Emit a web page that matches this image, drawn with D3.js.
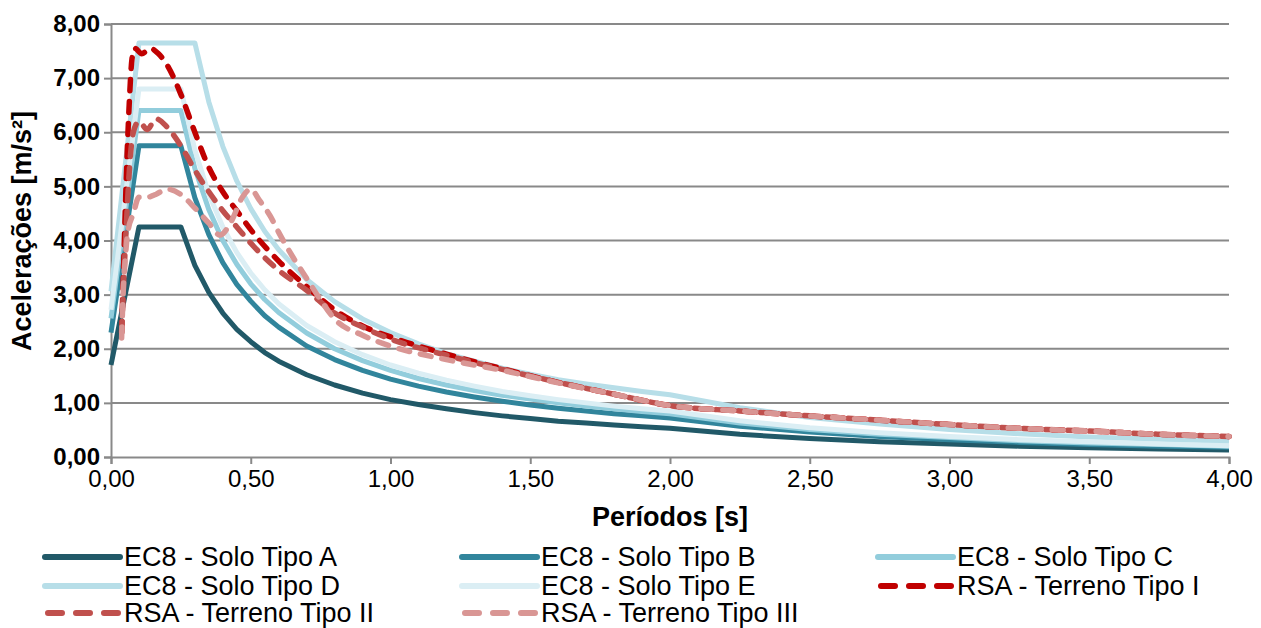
<!DOCTYPE html>
<html>
<head>
<meta charset="utf-8">
<script src="https://cdn.jsdelivr.net/npm/d3@7"></script>
<style>
  body { margin: 0; background: #fff; }
  text { font-family: "Liberation Sans", Arial, sans-serif; }
</style>
</head>
<body>
<div id="chart"></div>
<script>
// periods (s) shared by the EC8 spectra
var ec8Periods = [0, 0.1, 0.25, 0.3, 0.35, 0.4, 0.45, 0.5, 0.55, 0.6, 0.7, 0.8, 0.9, 1.0, 1.1, 1.2, 1.3, 1.4, 1.5,
                  1.6, 1.7, 1.8, 1.9, 2.0, 2.25, 2.5, 2.75, 3.0, 3.25, 3.5, 3.75, 4.0];

var soloA = [1.70, 4.25, 4.25, 3.54, 3.04, 2.66, 2.36, 2.13, 1.93, 1.77, 1.52, 1.33, 1.18, 1.06, 0.97, 0.89, 0.82, 0.76, 0.71,
             0.66, 0.63, 0.59, 0.56, 0.53, 0.42, 0.34, 0.28, 0.24, 0.20, 0.17, 0.15, 0.13];
var soloB = [2.30, 5.75, 5.75, 4.79, 4.11, 3.59, 3.19, 2.88, 2.61, 2.40, 2.05, 1.80, 1.60, 1.44, 1.31, 1.20, 1.11, 1.03, 0.96,
             0.90, 0.85, 0.80, 0.76, 0.72, 0.57, 0.46, 0.38, 0.32, 0.27, 0.23, 0.20, 0.18];
var soloC = [2.56, 6.40, 6.40, 5.33, 4.57, 4.00, 3.56, 3.20, 2.91, 2.67, 2.29, 2.00, 1.78, 1.60, 1.45, 1.33, 1.23, 1.14, 1.07,
             1.00, 0.94, 0.89, 0.84, 0.80, 0.63, 0.51, 0.42, 0.36, 0.30, 0.26, 0.23, 0.20];
var soloD = [3.06, 7.65, 7.65, 7.65, 6.56, 5.74, 5.10, 4.59, 4.17, 3.83, 3.28, 2.87, 2.55, 2.30, 2.09, 1.91, 1.77, 1.64, 1.53,
             1.43, 1.35, 1.28, 1.21, 1.15, 0.91, 0.73, 0.61, 0.51, 0.43, 0.37, 0.33, 0.29];
var soloE = [2.72, 6.80, 6.80, 5.67, 4.86, 4.25, 3.78, 3.40, 3.09, 2.83, 2.43, 2.13, 1.89, 1.70, 1.55, 1.42, 1.31, 1.21, 1.13,
             1.06, 1.00, 0.94, 0.89, 0.85, 0.67, 0.54, 0.45, 0.38, 0.32, 0.28, 0.24, 0.21];

// RSA spectra
var rsaPeriodsI = [0.038, 0.045, 0.055, 0.065, 0.075, 0.085, 0.11, 0.14, 0.17, 0.2, 0.25, 0.3, 0.35, 0.4, 0.45, 0.5,
                   0.6, 0.7, 0.8, 0.9, 1.0, 1.2, 1.4, 1.6, 1.8, 2.0, 2.25, 2.5, 2.75, 3.0, 3.25, 3.5, 3.75, 4.0];
var terrenoI = [2.3, 3.5, 5.2, 6.5, 7.35, 7.55, 7.45, 7.55, 7.45, 7.25, 6.7, 6.0, 5.35, 4.9, 4.55, 4.2,
                3.62, 3.15, 2.72, 2.42, 2.22, 1.9, 1.63, 1.38, 1.16, 0.95, 0.85, 0.76, 0.68, 0.6, 0.53, 0.48, 0.42, 0.38];

var rsaPeriodsII = [0.038, 0.045, 0.055, 0.07, 0.08, 0.1, 0.13, 0.16, 0.2, 0.25, 0.3, 0.35, 0.4, 0.45, 0.5,
                    0.6, 0.7, 0.8, 0.9, 1.0, 1.2, 1.4, 1.6, 1.8, 2.0, 2.25, 2.5, 2.75, 3.0, 3.25, 3.5, 3.75, 4.0];
var terrenoII = [2.3, 3.2, 4.3, 5.6, 6.0, 6.2, 6.05, 6.25, 6.1, 5.75, 5.3, 4.9, 4.55, 4.25, 3.95,
                 3.45, 3.08, 2.66, 2.4, 2.18, 1.88, 1.62, 1.38, 1.16, 0.95, 0.85, 0.76, 0.68, 0.6, 0.53, 0.48, 0.42, 0.38];

var rsaPeriodsIII = [0.038, 0.045, 0.05, 0.06, 0.08, 0.1, 0.13, 0.16, 0.2, 0.25, 0.3, 0.35, 0.39, 0.43, 0.47, 0.5,
                     0.53, 0.57, 0.6, 0.65, 0.7, 0.75, 0.8, 0.9, 1.0, 1.2, 1.4, 1.6, 1.8, 2.0, 2.25, 2.5, 2.75,
                     3.0, 3.25, 3.5, 3.75, 4.0];
var terrenoIII = [2.2, 3.2, 3.6, 4.15, 4.5, 4.8, 4.8, 4.85, 4.95, 4.85, 4.6, 4.32, 4.1, 4.35, 4.8, 4.95,
                  4.75, 4.45, 4.15, 3.7, 3.3, 2.9, 2.55, 2.25, 2.05, 1.8, 1.6, 1.37, 1.16, 0.95, 0.85, 0.76, 0.68,
                  0.6, 0.53, 0.48, 0.42, 0.38];

var xTicks = [0, 0.5, 1, 1.5, 2, 2.5, 3, 3.5, 4];
var yTicks = [0, 1, 2, 3, 4, 5, 6, 7, 8];

var series = [
    { name: "EC8 - Solo Tipo A", t: ec8Periods, v: soloA, color: "#215968", dash: false },
    { name: "EC8 - Solo Tipo B", t: ec8Periods, v: soloB, color: "#31859c", dash: false },
    { name: "EC8 - Solo Tipo C", t: ec8Periods, v: soloC, color: "#92cddc", dash: false },
    { name: "EC8 - Solo Tipo D", t: ec8Periods, v: soloD, color: "#b7dee8", dash: false },
    { name: "EC8 - Solo Tipo E", t: ec8Periods, v: soloE, color: "#dbeef4", dash: false },
    { name: "RSA - Terreno Tipo I", t: rsaPeriodsI, v: terrenoI, color: "#c00000", dash: true },
    { name: "RSA - Terreno Tipo II", t: rsaPeriodsII, v: terrenoII, color: "#c0504d", dash: true },
    { name: "RSA - Terreno Tipo III", t: rsaPeriodsIII, v: terrenoIII, color: "#d99694", dash: true }
];

var width = 1261,
    height = 628;

var svg = d3.select("#chart").append("svg")
    .attr("width", width)
    .attr("height", height);

var x = d3.scaleLinear().domain([0, 4]).range([111, 1229]);
var y = d3.scaleLinear().domain([0, 8]).range([457, 24]);

var pt = d3.formatLocale({ decimal: ",", thousands: ".", grouping: [3], currency: ["", ""] }).format(".2f");

// gridlines
svg.append("g")
    .selectAll("line")
    .data(yTicks.slice(1))
    .enter().append("line")
    .attr("x1", x(0)).attr("x2", x(4))
    .attr("y1", function(d) { return y(d); })
    .attr("y2", function(d) { return y(d); })
    .attr("stroke", "#898989")
    .attr("stroke-width", 2);

// axes
var yAxis = svg.append("g")
    .attr("transform", "translate(" + x(0) + ",0)")
    .call(d3.axisLeft(y).tickValues(yTicks).tickSize(7).tickPadding(4).tickFormat(pt));

var xAxis = svg.append("g")
    .attr("transform", "translate(0," + y(0) + ")")
    .call(d3.axisBottom(x).tickValues(xTicks).tickSize(7).tickPadding(6).tickFormat(pt));

[yAxis, xAxis].forEach(function(ax) {
    ax.select(".domain").attr("stroke", "#898989").attr("stroke-width", 2);
    ax.selectAll(".tick line").attr("stroke", "#898989").attr("stroke-width", 2);
    ax.selectAll(".tick text").attr("fill", "#000").style("font-size", "24px");
});
yAxis.selectAll(".tick text").style("font-weight", "bold");

// series
var line = d3.line()
    .x(function(d) { return x(d[0]); })
    .y(function(d) { return y(d[1]); });

svg.append("g")
    .selectAll("path")
    .data(series)
    .enter().append("path")
    .attr("fill", "none")
    .attr("stroke", function(d) { return d.color; })
    .attr("stroke-width", function(d) { return d.dash ? 5.5 : 5; })
    .attr("stroke-linecap", function(d) { return d.dash ? "round" : "butt"; })
    .attr("stroke-linejoin", "round")
    .attr("stroke-dasharray", function(d) { return d.dash ? "11,11" : null; })
    .attr("d", function(d) {
        var pts = d.t.map(function(t, i) { return [t, d.v[i]]; });
        return line.curve(d.dash ? d3.curveMonotoneX : d3.curveLinear)(pts);
    });

// axis titles
svg.append("text")
    .attr("x", 670).attr("y", 526)
    .attr("text-anchor", "middle")
    .style("font-size", "27px").style("font-weight", "bold")
    .text("Períodos [s]");

svg.append("text")
    .attr("transform", "translate(31,231) rotate(-90)")
    .attr("text-anchor", "middle")
    .style("font-size", "27px").style("font-weight", "bold")
    .text("Acelerações [m/s²]");

// legend
var colX = [45, 462, 878],
    rowY = [557, 586, 613];

var legend = svg.append("g")
    .selectAll("g")
    .data(series)
    .enter().append("g")
    .attr("transform", function(d, i) {
        return "translate(" + colX[i % 3] + "," + rowY[Math.floor(i / 3)] + ")";
    });

legend.append("line")
    .attr("x1", function(d) { return d.dash ? 3 : 0; })
    .attr("x2", function(d) { return d.dash ? 73 : 75; })
    .attr("stroke", function(d) { return d.color; })
    .attr("stroke-width", 6)
    .attr("stroke-linecap", function(d) { return d.dash ? "round" : "round"; })
    .attr("stroke-dasharray", function(d) { return d.dash ? "14,14" : null; });

legend.append("text")
    .attr("x", 79)
    .attr("y", 9)
    .style("font-size", "27px")
    .text(function(d) { return d.name; });
</script>
</body>
</html>
